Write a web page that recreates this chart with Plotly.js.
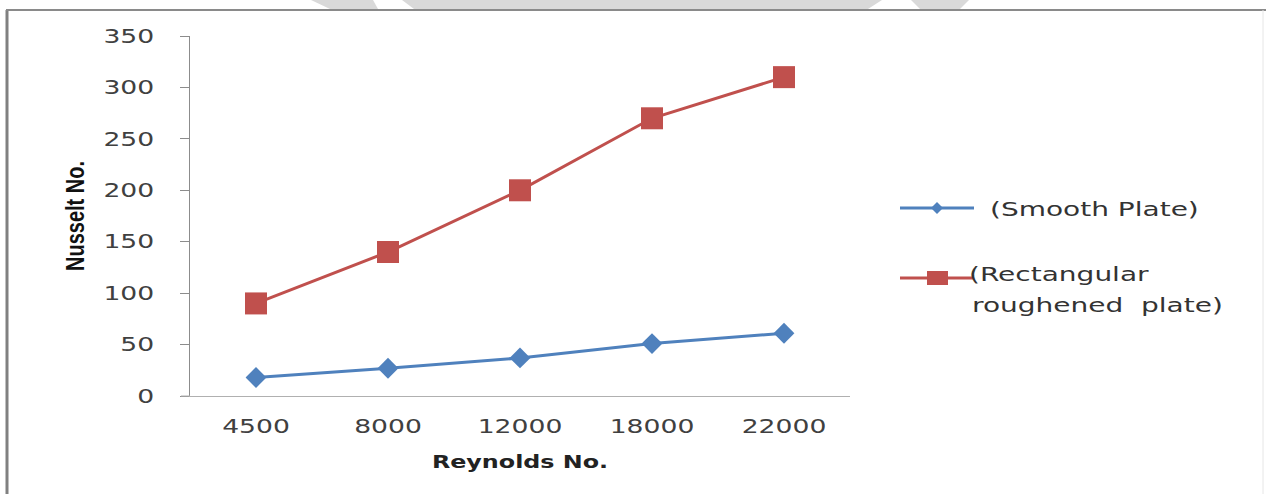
<!DOCTYPE html>
<html>
<head>
<meta charset="utf-8">
<script src="https://cdn.plot.ly/plotly-3.0.1.min.js"></script>
<style>html,body{margin:0;padding:0;background:#fff;}#chart{width:1266px;height:494px;}</style>
</head>
<body>
<div id="chart"></div>
<script>
// ---- data ----
var categories = ['4500', '8000', '12000', '18000', '22000'];
var smoothPlate = [18, 27, 37, 51, 61];
var roughPlate = [90, 140, 200, 270, 310];
var yTicks = [0, 50, 100, 150, 200, 250, 300, 350];
var seriesNames = ['(Smooth Plate)', '(Rectangular', 'roughened  plate)'];

var BLUE = '#4F81BD', RED = '#C0504D';

// plot area in pixels
var L = 190, R = 850, T = 36, B = 396, W = 1266, H = 494;
function px(X) { return (X - L) / (R - L); }
function py(Y) { return (B - Y) / (B - T); }

var traces = [
  {x: categories, y: smoothPlate, type: 'scatter', mode: 'lines+markers', name: seriesNames[0],
   line: {color: BLUE, width: 3}, marker: {symbol: 'diamond', size: 16, color: BLUE}},
  {x: categories, y: roughPlate, type: 'scatter', mode: 'lines+markers', name: seriesNames[1] + ' ' + seriesNames[2],
   line: {color: RED, width: 3}, marker: {symbol: 'square', size: 22, color: RED}}
];

var grey = '#d9d9d9';
var shapes = [
  // faint watermark pieces at the top edge
  {type: 'path', xref: 'paper', yref: 'paper', layer: 'below', line: {width: 0}, fillcolor: grey,
   path: 'M' + px(311) + ',' + py(0) + ' L' + px(373) + ',' + py(0) + ' L' + px(378) + ',' + py(9) + ' L' + px(330) + ',' + py(9) + ' Z'},
  {type: 'path', xref: 'paper', yref: 'paper', layer: 'below', line: {width: 0}, fillcolor: grey,
   path: 'M' + px(402) + ',' + py(0) + ' L' + px(882) + ',' + py(0) + ' L' + px(868) + ',' + py(9) + ' L' + px(414) + ',' + py(9) + ' Z'},
  {type: 'path', xref: 'paper', yref: 'paper', layer: 'below', line: {width: 0}, fillcolor: grey,
   path: 'M' + px(911) + ',' + py(0) + ' L' + px(969) + ',' + py(0) + ' L' + px(960) + ',' + py(9) + ' L' + px(920) + ',' + py(9) + ' Z'},
  // frame
  {type: 'line', xref: 'paper', yref: 'paper', x0: px(7), x1: px(7), y0: py(10), y1: py(500), line: {color: '#808080', width: 3}},
  {type: 'line', xref: 'paper', yref: 'paper', x0: px(6), x1: px(1266), y0: py(10), y1: py(10), line: {color: '#8a8a8a', width: 2}},
  {type: 'line', xref: 'paper', yref: 'paper', x0: px(1263), x1: px(1263), y0: py(10), y1: py(500), line: {color: '#e6e6e6', width: 1}},
  // x axis line extends slightly left of the value axis
  {type: 'line', xref: 'paper', yref: 'paper', x0: px(181), x1: px(190), y0: py(396), y1: py(396), line: {color: '#b0b0b0', width: 1}},
  // legend samples
  {type: 'line', xref: 'paper', yref: 'paper', x0: px(900), x1: px(974), y0: py(208), y1: py(208), line: {color: BLUE, width: 3}},
  {type: 'path', xref: 'paper', yref: 'paper', line: {width: 0}, fillcolor: BLUE,
   path: 'M' + px(931) + ',' + py(208) + ' L' + px(937) + ',' + py(202) + ' L' + px(943) + ',' + py(208) + ' L' + px(937) + ',' + py(214) + ' Z'},
  {type: 'line', xref: 'paper', yref: 'paper', x0: px(900), x1: px(973), y0: py(278), y1: py(278), line: {color: RED, width: 3}},
  {type: 'rect', xref: 'paper', yref: 'paper', line: {width: 0}, fillcolor: RED,
   x0: px(927), x1: px(948), y0: py(271), y1: py(285)}
];

var legFont = {family: 'DejaVu Sans, Verdana, sans-serif', size: 20, color: '#333333'};
var annotations = [
  {xref: 'paper', yref: 'paper', x: px(988), y: py(209), xanchor: 'left', yanchor: 'middle', showarrow: false, text: seriesNames[0], font: legFont},
  {xref: 'paper', yref: 'paper', x: px(967), y: py(274), xanchor: 'left', yanchor: 'middle', showarrow: false, text: seriesNames[1], font: legFont},
  {xref: 'paper', yref: 'paper', x: px(970), y: py(305), xanchor: 'left', yanchor: 'middle', showarrow: false, text: seriesNames[2], font: legFont}
];

var tickFont = {family: 'DejaVu Sans, Verdana, sans-serif', size: 19, color: '#404040'};

var layout = {
  width: W, height: H,
  margin: {l: L, r: W - R, t: T, b: H - B, pad: 0},
  paper_bgcolor: '#ffffff', plot_bgcolor: '#ffffff',
  showlegend: false,
  xaxis: {
    type: 'category', categoryorder: 'array', categoryarray: categories,
    range: [-0.5, categories.length - 0.5],
    showline: true, linecolor: '#b0b0b0', linewidth: 1,
    showgrid: false, zeroline: false, ticks: '',
    tickfont: tickFont, ticklabelstandoff: 13,
    title: {text: 'Reynolds No.', standoff: 20, font: {family: 'DejaVu Sans, Verdana, sans-serif', size: 17, color: '#222222', weight: 'bold'}},
    fixedrange: true
  },
  yaxis: {
    range: [0, 350], tickvals: yTicks, ticktext: yTicks.map(String),
    showline: true, linecolor: '#8c8c8c', linewidth: 1,
    ticks: 'outside', ticklen: 9, tickcolor: '#8c8c8c', tickwidth: 1,
    showgrid: false, zeroline: false,
    tickfont: tickFont, ticklabelstandoff: 22,
    title: {text: 'Nusselt No.', standoff: 27, font: {family: 'Liberation Sans Narrow, Liberation Sans, Arial Narrow, sans-serif', size: 20, color: '#111111', weight: 'bold'}},
    fixedrange: true
  },
  shapes: shapes,
  annotations: annotations
};

// the reference image is horizontally stretched; widen the text glyphs to match
function stretch(el, f, keep) {
  var b0 = el.getBBox();
  var len = el.getComputedTextLength();
  if (!len) return;
  el.setAttribute('lengthAdjust', 'spacingAndGlyphs');
  el.setAttribute('textLength', (len * f).toFixed(2));
  var b1 = el.getBBox();
  var dx = 0;
  if (keep === 'left') dx = b0.x - b1.x;
  else if (keep === 'right') dx = (b0.x + b0.width) - (b1.x + b1.width);
  else dx = (b0.x + b0.width / 2) - (b1.x + b1.width / 2);
  if (Math.abs(dx) > 0.1) el.setAttribute('dx', dx.toFixed(2));
}

Plotly.newPlot('chart', traces, layout, {displayModeBar: false, staticPlot: true}).then(function (gd) {
  var F = 1.4;
  gd.querySelectorAll('.xtick text').forEach(function (t) { stretch(t, F, 'center'); });
  gd.querySelectorAll('.ytick text').forEach(function (t) { stretch(t, F, 'right'); });
  gd.querySelectorAll('.annotation-text').forEach(function (t) { stretch(t, F, 'left'); });
  gd.querySelectorAll('.xtitle').forEach(function (t) { stretch(t, F, 'center'); });
  gd.querySelectorAll('.ytitle').forEach(function (t) {
    var cx = parseFloat(t.getAttribute('x'));
    var tr = t.getAttribute('transform') || '';
    t.setAttribute('transform', 'translate(' + cx + ',0) scale(1.3,1) translate(' + (-cx) + ',0) ' + tr);
  });
});
</script>
</body>
</html>
